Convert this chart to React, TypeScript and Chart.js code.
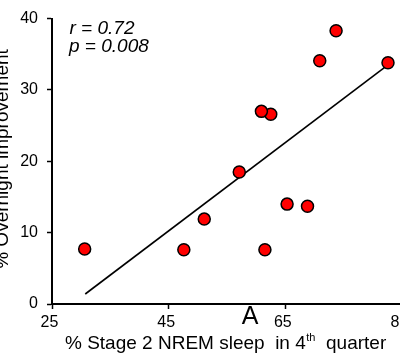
import React, { useEffect, useRef } from "react";
import { Chart, registerables } from "chart.js";

Chart.register(...registerables);

// ---- data ----
const stage2Pct = [30.6, 47.6, 51.1, 57.1, 62.5, 60.9, 61.5, 65.3, 68.8, 70.9, 73.7, 82.6];
const overnightImprovement = [7.7, 7.6, 11.9, 18.5, 26.6, 27.0, 7.6, 14.0, 13.7, 34.1, 38.3, 33.8];
const fitLineX = [30.7, 82.6];
const fitLineY = [1.4, 33.5];
const xTicks = [25, 45, 65, 85];
const yTicks = [0, 10, 20, 30, 40];
const statsText = ["r = 0.72", "p = 0.008"];
const yTitle = "% Overnight improvement";
const xTitleMain = "% Stage 2 NREM sleep  in 4";
const xTitleSup = "th";
const xTitleEnd = "  quarter";
const panelLabel = "A";

const FONT = "'Liberation Sans', Arial, Helvetica, sans-serif";

const textPlugin = {
  id: "customText",
  afterDraw(chart: any) {
    const ctx = chart.ctx as CanvasRenderingContext2D;
    ctx.save();
    ctx.fillStyle = "#000";
    // y title
    ctx.save();
    ctx.translate(7.5, 159);
    ctx.rotate(-Math.PI / 2);
    ctx.font = `19px ${FONT}`;
    ctx.textAlign = "center";
    ctx.textBaseline = "alphabetic";
    ctx.fillText(yTitle, 0, 0);
    ctx.restore();

    // x title with superscript
    ctx.textAlign = "left";
    ctx.textBaseline = "alphabetic";
    let x = 65;
    const base = 349;
    ctx.font = `19px ${FONT}`;
    ctx.fillText(xTitleMain, x, base);
    x += ctx.measureText(xTitleMain).width + 0.5;
    ctx.font = `11px ${FONT}`;
    ctx.fillText(xTitleSup, x, base - 8);
    x += ctx.measureText(xTitleSup).width;
    ctx.font = `19px ${FONT}`;
    ctx.fillText(xTitleEnd, x, base);

    // stats
    ctx.font = `italic 19px ${FONT}`;
    ctx.fillText(statsText[0], 69.5, 33.5);
    ctx.fillText(statsText[1], 69, 52);

    // panel label
    ctx.font = `25px ${FONT}`;
    ctx.textAlign = "center";
    ctx.fillText(panelLabel, 250, 323.5);
    ctx.restore();
  },
};

export default function App() {
  const ref = useRef<HTMLCanvasElement>(null);
  useEffect(() => {
    if (!ref.current) return;
    const chart = new Chart(ref.current, {
      type: "scatter",
      data: {
        datasets: [
          {
            label: "subjects",
            data: stage2Pct.map((v, i) => ({ x: v, y: overnightImprovement[i] })),
            backgroundColor: "#ff0000",
            borderColor: "#000000",
            borderWidth: 1.5,
            pointRadius: 6,
            pointHoverRadius: 6,
          },
          {
            label: "fit",
            data: fitLineX.map((v, i) => ({ x: v, y: fitLineY[i] })),
            showLine: true,
            borderColor: "#000000",
            borderWidth: 1.6,
            pointRadius: 0,
            fill: false,
          },
        ],
      },
      options: {
        animation: false,
        responsive: false,
        devicePixelRatio: 1,
        layout: { padding: { left: 0, right: 18, top: 16, bottom: 0 } },
        plugins: { legend: { display: false }, tooltip: { enabled: false } },
        scales: {
          x: {
            type: "linear",
            min: 25,
            max: 85,
            afterBuildTicks: (axis: any) => {
              axis.ticks = xTicks.map((v) => ({ value: v }));
            },
            afterFit: (axis: any) => {
              axis.height = 59;
            },
            grid: {
              display: true,
              drawOnChartArea: false,
              drawTicks: true,
              tickLength: 5,
              tickColor: "#000",
              tickWidth: 1.5,
            },
            border: { display: true, color: "#000", width: 2 },
            ticks: {
              color: "#000",
              font: { family: FONT, size: 16 },
              padding: 4,
              labelOffset: -2.5,
              maxRotation: 0,
              autoSkip: false,
            },
          },
          y: {
            type: "linear",
            min: 0,
            max: 40,
            afterBuildTicks: (axis: any) => {
              axis.ticks = yTicks.map((v) => ({ value: v }));
            },
            afterFit: (axis: any) => {
              axis.width = 52;
            },
            grid: {
              display: true,
              drawOnChartArea: false,
              drawTicks: true,
              tickLength: 5,
              tickColor: "#000",
              tickWidth: 1.5,
            },
            border: { display: true, color: "#000", width: 2 },
            ticks: {
              color: "#000",
              font: { family: FONT, size: 16 },
              padding: 9,
              autoSkip: false,
            },
          },
        },
      },
      plugins: [textPlugin],
    } as any);
    return () => chart.destroy();
  }, []);

  return (
    <div
      style={{
        position: "fixed",
        left: 0,
        top: 0,
        width: 400,
        height: 363,
        overflow: "hidden",
        background: "#fff",
      }}
    >
      <canvas ref={ref} width={420} height={363} style={{ display: "block" }} />
    </div>
  );
}
